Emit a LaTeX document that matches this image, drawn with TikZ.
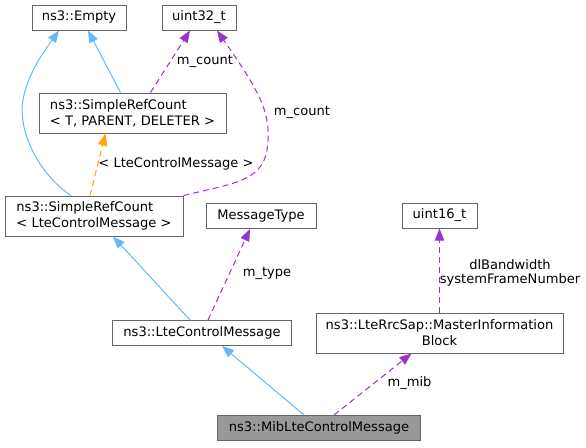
\documentclass[tikz,border=0pt]{standalone}
\usepackage{fontspec}
\setmainfont{DejaVu Sans}
\usepackage{tikz}
\usetikzlibrary{arrows.meta}

\definecolor{edgeblue}{HTML}{63B8FF}
\definecolor{edgepurple}{HTML}{9A32CD}
\definecolor{edgeorange}{HTML}{FFA500}
\definecolor{boxgray}{HTML}{666666}

\begin{document}
\begin{tikzpicture}[x=0.75pt, y=-0.75pt, line width=0.75pt,
    font=\fontsize{9.8}{12}\selectfont,
    box/.style={draw=boxgray, fill=white, inner sep=0pt, align=center},
    leftbox/.style={box, align=left},
    mainbox/.style={box, fill=black!40},
    inherit/.style={draw=edgeblue, -{Triangle[length=9pt, width=7pt]}},
    member/.style={draw=edgepurple, dash pattern=on 4.5pt off 3pt, -{Triangle[length=9pt, width=7pt]}},
    templ/.style={draw=edgeorange, dash pattern=on 4.5pt off 3pt, -{Triangle[length=9pt, width=7pt]}},
    elabel/.style={inner sep=1pt, align=center, font=\fontsize{9.8}{10.5}\selectfont}]
    \useasboundingbox (0, 0) rectangle (586, 447);

    % draw class boxes
    \node[box, minimum width=94*0.75pt, minimum height=25*0.75pt] (empty) at (79, 17.5) {ns3::Empty};
    \node[box, minimum width=74*0.75pt, minimum height=25*0.75pt] (uint32) at (199, 17.5) {uint32\_t};
    \node[leftbox, minimum width=187*0.75pt, minimum height=40*0.75pt] (srct) at (132.5, 113) {ns3::SimpleRefCount\\\textless{} T, PARENT, DELETER \textgreater{}};
    \node[leftbox, minimum width=178*0.75pt, minimum height=40*0.75pt] (srclte) at (94, 216) {ns3::SimpleRefCount\\\textless{} LteControlMessage \textgreater{}};
    \node[box, minimum width=110*0.75pt, minimum height=25*0.75pt] (msgtype) at (261, 216) {MessageType};
    \node[box, minimum width=75*0.75pt, minimum height=25*0.75pt] (uint16) at (439.5, 215.5) {uint16\_t};
    \node[box, minimum width=247*0.75pt, minimum height=40*0.75pt] (mib) at (439.5, 333) {ns3::LteRrcSap::MasterInformation\\Block};
    \node[box, minimum width=179*0.75pt, minimum height=25*0.75pt] (ltecm) at (202, 333) {ns3::LteControlMessage};
    \node[mainbox, minimum width=203*0.75pt, minimum height=25*0.75pt] (miblte) at (319, 428) {ns3::MibLteControlMessage};

    % draw inheritance edges
    \draw[inherit] ([xshift=-23*0.75pt]srclte.north) .. controls (40, 175) and (15, 130) .. (24, 95)
        .. controls (30, 70) and (45, 50) .. ([xshift=-20*0.75pt]empty.south);
    \draw[inherit] ([xshift=-12*0.75pt]srct.north) -- ([xshift=9*0.75pt]empty.south);
    \draw[inherit] ([xshift=-12*0.75pt]ltecm.north) -- ([xshift=19*0.75pt]srclte.south);
    \draw[inherit] ([xshift=-15*0.75pt]miblte.north) -- ([xshift=20*0.75pt]ltecm.south);

    % draw template edge
    \draw[templ] ([xshift=-4*0.75pt]srclte.north) -- ([xshift=-27*0.75pt]srct.south);
    \node[elabel] (ltag) at (176, 164) {\textless{} LteControlMessage \textgreater{}};

    % draw member edges
    \draw[member] ([xshift=18*0.75pt]srct.north) -- ([xshift=-9*0.75pt]uint32.south);
    \node[elabel] (lcount1) at (205, 61) {m\_count};
    \draw[member] (srclte.north east) .. controls (230, 184) and (262, 182) .. (267, 150)
        .. controls (272, 115) and (262, 95) .. ([xshift=18*0.75pt]uint32.south);
    \node[elabel] (lcount2) at (302, 112) {m\_count};
    \draw[member] ([xshift=6*0.75pt]ltecm.north) -- ([xshift=-11*0.75pt]msgtype.south);
    \node[elabel] (ltype) at (267, 273) {m\_type};
    \draw[member] (mib.north) -- (uint16.south);
    \node[elabel] (lbw) at (510, 273) {dlBandwidth\\systemFrameNumber};
    \draw[member] ([xshift=15*0.75pt]miblte.north) -- ([xshift=-28*0.75pt]mib.south);
    \node[elabel] (lmib) at (409.5, 383) {m\_mib};
\end{tikzpicture}
\end{document}
